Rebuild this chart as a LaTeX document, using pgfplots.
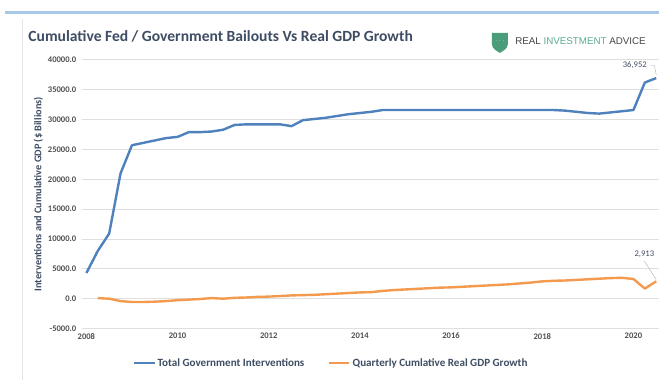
\documentclass[border=0pt]{standalone}
\usepackage{pgfplots}
\pgfplotsset{compat=1.18}
\usepackage{fontspec}
\setmainfont{Carlito}
\newfontfamily\arial{Liberation Sans}
\definecolor{cblue}{HTML}{4F81BD}
\definecolor{corange}{HTML}{F39A4E}
\definecolor{ctitle}{HTML}{3E4D63}
\definecolor{ctick}{HTML}{505050}
\definecolor{cgrid}{HTML}{DFDFDF}
\definecolor{cgreen}{HTML}{5BAE8C}
\definecolor{cshield}{HTML}{4A9C7A}
\definecolor{crule}{HTML}{A9C8E8}
\begin{document}
\begin{tikzpicture}[x=1pt,y=1pt]
\fill[white] (0,0) rectangle (660,381);
\draw[crule, line width=3pt] (5,368) -- (660,368);
\draw[gray!20, line width=0.6pt] (22.5,0) -- (22.5,362);
\node[anchor=west, text=ctitle, font=\fontsize{15.6}{17}\selectfont\bfseries] at (25,345) {Cumulative Fed / Government Bailouts Vs Real GDP Growth};
% logo
\fill[cshield] (493,348) -- (509,348) -- (509,337) .. controls (509,332) and (504,330) .. (501,328) .. controls (498,330) and (493,332) .. (493,337) -- cycle;
\node[text=white, font=\fontsize{6}{6}\selectfont\bfseries] at (501,340) {$\cdots$};
\node[anchor=west, font=\arial\fontsize{9.8}{11}\selectfont] at (513,340) {\textcolor{ctick!85!black}{REAL} \textcolor{cgreen}{INVESTMENT} \textcolor{ctick!85!black}{ADVICE}};
\begin{axis}[
  at={(82pt,51.7pt)}, anchor=south west,
  scale only axis, width=578pt, height=269.3pt,
  xmin=2007.9, xmax=2020.55, ymin=-5000, ymax=40000,
  clip=true,
  axis line style={draw=none}, major tick length=0pt,
  scaled y ticks=false,
  ymajorgrids, grid style={cgrid, line width=0.8pt},
  xtick={2008,2010,...,2020}, ytick={-5000,0,...,40000},
  xticklabel style={font=\fontsize{8.6}{10}\selectfont\bfseries, text=ctick, yshift=-1pt, /pgf/number format/1000 sep={}},
  yticklabel style={font=\fontsize{8.6}{10}\selectfont\bfseries, text=ctick, xshift=-2pt, /pgf/number format/fixed, /pgf/number format/fixed zerofill, /pgf/number format/precision=1, /pgf/number format/1000 sep={}},
  /pgf/number format/assume math mode=true,
  ylabel={Interventions and Cumulative GDP (\$ Billions)},
  ylabel style={font=\fontsize{10.3}{11}\selectfont\bfseries, text=ctitle, yshift=-2pt},
  legend columns=2,
  legend style={draw=none, at={(0.432,-0.129)}, anchor=center, font=\fontsize{11.1}{12}\selectfont\bfseries, text=ctitle, /tikz/every even column/.append style={column sep=21pt}},
  legend image code/.code={\draw[#1, line width=2.4pt] (0pt,0pt) -- (21pt,0pt);},
]
\addplot[cblue, line width=2.4pt, line join=round] coordinates {
(2008.0,4300) (2008.25,8000) (2008.5,10900) (2008.75,21000) (2009.0,25700)
(2009.25,26100) (2009.5,26500) (2009.75,26900) (2010.0,27100) (2010.25,27900)
(2010.5,27900) (2010.75,28000) (2011.0,28300) (2011.25,29100) (2011.5,29200)
(2011.75,29200) (2012.0,29200) (2012.25,29200) (2012.5,28900) (2012.75,29900)
(2013.0,30100) (2013.25,30300) (2013.5,30600) (2013.75,30900) (2014.0,31100)
(2014.25,31300) (2014.5,31600) (2014.75,31600) (2015.0,31600) (2015.5,31600)
(2016.0,31600) (2016.5,31600) (2017.0,31600) (2017.5,31600) (2018.0,31600)
(2018.25,31600) (2018.5,31500) (2018.75,31300) (2019.0,31100) (2019.25,31000)
(2019.5,31200) (2019.75,31400) (2020.0,31600) (2020.25,36200) (2020.5,36952)
};
\addlegendentry{Total Government Interventions}
\addplot[corange, line width=2.4pt, line join=round] coordinates {
(2008.25,100) (2008.5,0) (2008.75,-400) (2009.0,-550) (2009.25,-550)
(2009.5,-500) (2009.75,-400) (2010.0,-250) (2010.25,-150) (2010.5,-50)
(2010.75,100) (2011.0,0) (2011.25,150) (2011.5,200) (2011.75,300)
(2012.0,350) (2012.25,450) (2012.5,550) (2012.75,600) (2013.0,650)
(2013.25,750) (2013.5,850) (2013.75,950) (2014.0,1050) (2014.25,1100)
(2014.5,1300) (2014.75,1450) (2015.0,1550) (2015.25,1650) (2015.5,1750)
(2015.75,1850) (2016.0,1900) (2016.25,2000) (2016.5,2100) (2016.75,2200)
(2017.0,2300) (2017.25,2400) (2017.5,2550) (2017.75,2700) (2018.0,2900)
(2018.25,3000) (2018.5,3050) (2018.75,3150) (2019.0,3250) (2019.25,3350)
(2019.5,3450) (2019.75,3500) (2020.0,3300) (2020.25,1700) (2020.5,2913)
};
\addlegendentry{Quarterly Cumlative Real GDP Growth}
\draw[gray!60, line width=0.4pt] (axis cs:2020.37,39100) -- (axis cs:2020.46,39100) -- (axis cs:2020.5,37500);
\node[anchor=east, font=\fontsize{8.6}{10}\selectfont, text=ctitle] at (axis cs:2020.37,39100) {36,952};
\draw[gray!60, line width=0.4pt] (axis cs:2020.24,6300) -- (axis cs:2020.5,3200);
\node[anchor=south, font=\fontsize{8.6}{10}\selectfont, text=ctitle] at (axis cs:2020.24,6300) {2,913};
\end{axis}
\end{tikzpicture}
\end{document}
